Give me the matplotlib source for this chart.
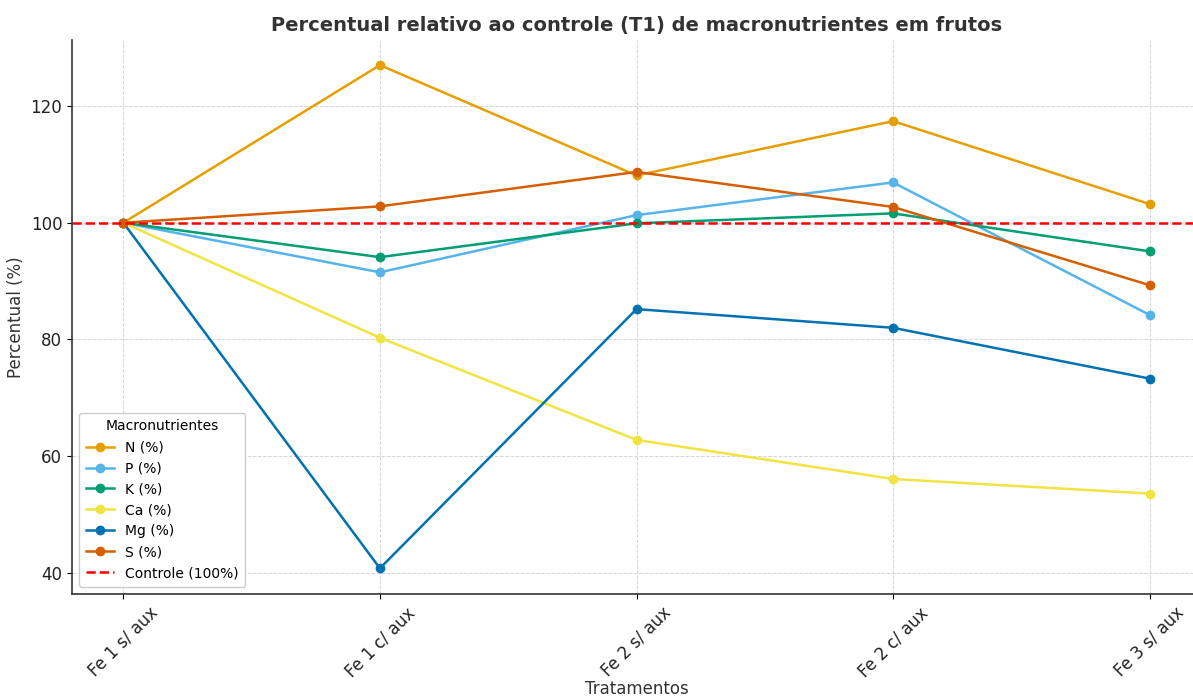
import matplotlib
matplotlib.use("Agg")
import matplotlib.pyplot as plt

treatments = ["Fe 1 s/ aux", "Fe 1 c/ aux", "Fe 2 s/ aux", "Fe 2 c/ aux", "Fe 3 s/ aux"]
N = [100, 127.0, 108.1, 117.4, 103.2]
P = [100, 91.5, 101.3, 106.9, 84.2]
K = [100, 94.1, 99.9, 101.6, 95.1]
Ca = [100, 80.3, 62.8, 56.1, 53.6]
Mg = [100, 40.8, 85.2, 82.0, 73.3]
S = [100, 102.8, 108.7, 102.7, 89.3]
series_names = ["N (%)", "P (%)", "K (%)", "Ca (%)", "Mg (%)", "S (%)"]
series = [N, P, K, Ca, Mg, S]
colors = ["#E69F00", "#56B4E9", "#009E73", "#F0E442", "#0072B2", "#D55E00"]

plt.rcParams['font.family'] = ['DejaVu Sans']
fig = plt.figure(figsize=(11.93, 6.97), dpi=100)
ax = fig.add_axes([72/1193, 1 - 594/697, (1201-72)/1193, (594-40)/697])

x = list(range(len(treatments)))
for name, vals, c in zip(series_names, series, colors):
    ax.plot(x, vals, marker='o', color=c, label=name, linewidth=1.8, markersize=6)
ax.axhline(100, color='red', linestyle='--', linewidth=1.8, label='Controle (100%)')

ax.set_xlim(-0.2, 4.2)
ax.set_ylim(36.4, 131.3)
ax.set_yticks([40, 60, 80, 100, 120])
ax.set_xticks(x)
ax.set_xticklabels(treatments, rotation=45, fontsize=12, color='#222222')
ax.tick_params(axis='y', labelsize=12, labelcolor='#222222')
ax.grid(True, linestyle='--', color='#d5d5d5', linewidth=0.7)
ax.set_axisbelow(True)
for s in ['top', 'right']:
    ax.spines[s].set_visible(False)
for s in ['left', 'bottom']:
    ax.spines[s].set_color('#333333')
    ax.spines[s].set_linewidth(1.2)

ax.set_xlabel("Tratamentos", fontsize=12, color='#333333')
ax.xaxis.set_label_coords((637 - 72) / (1201 - 72), -(689 - 594) / (594 - 40))
ax.xaxis.label.set_va('center')
ax.set_ylabel("Percentual (%)", fontsize=12, color='#333333')
fig.text(637/1193, 1 - 25/697, "Percentual relativo ao controle (T1) de macronutrientes em frutos",
         ha='center', va='center', fontsize=14, fontweight='bold', color='#333333')
leg = ax.legend(title="Macronutrientes", loc='lower left', fontsize=10, title_fontsize=10,
                framealpha=1.0, edgecolor='#cccccc', borderpad=0.5)
fig.savefig("out.png", dpi=100)
